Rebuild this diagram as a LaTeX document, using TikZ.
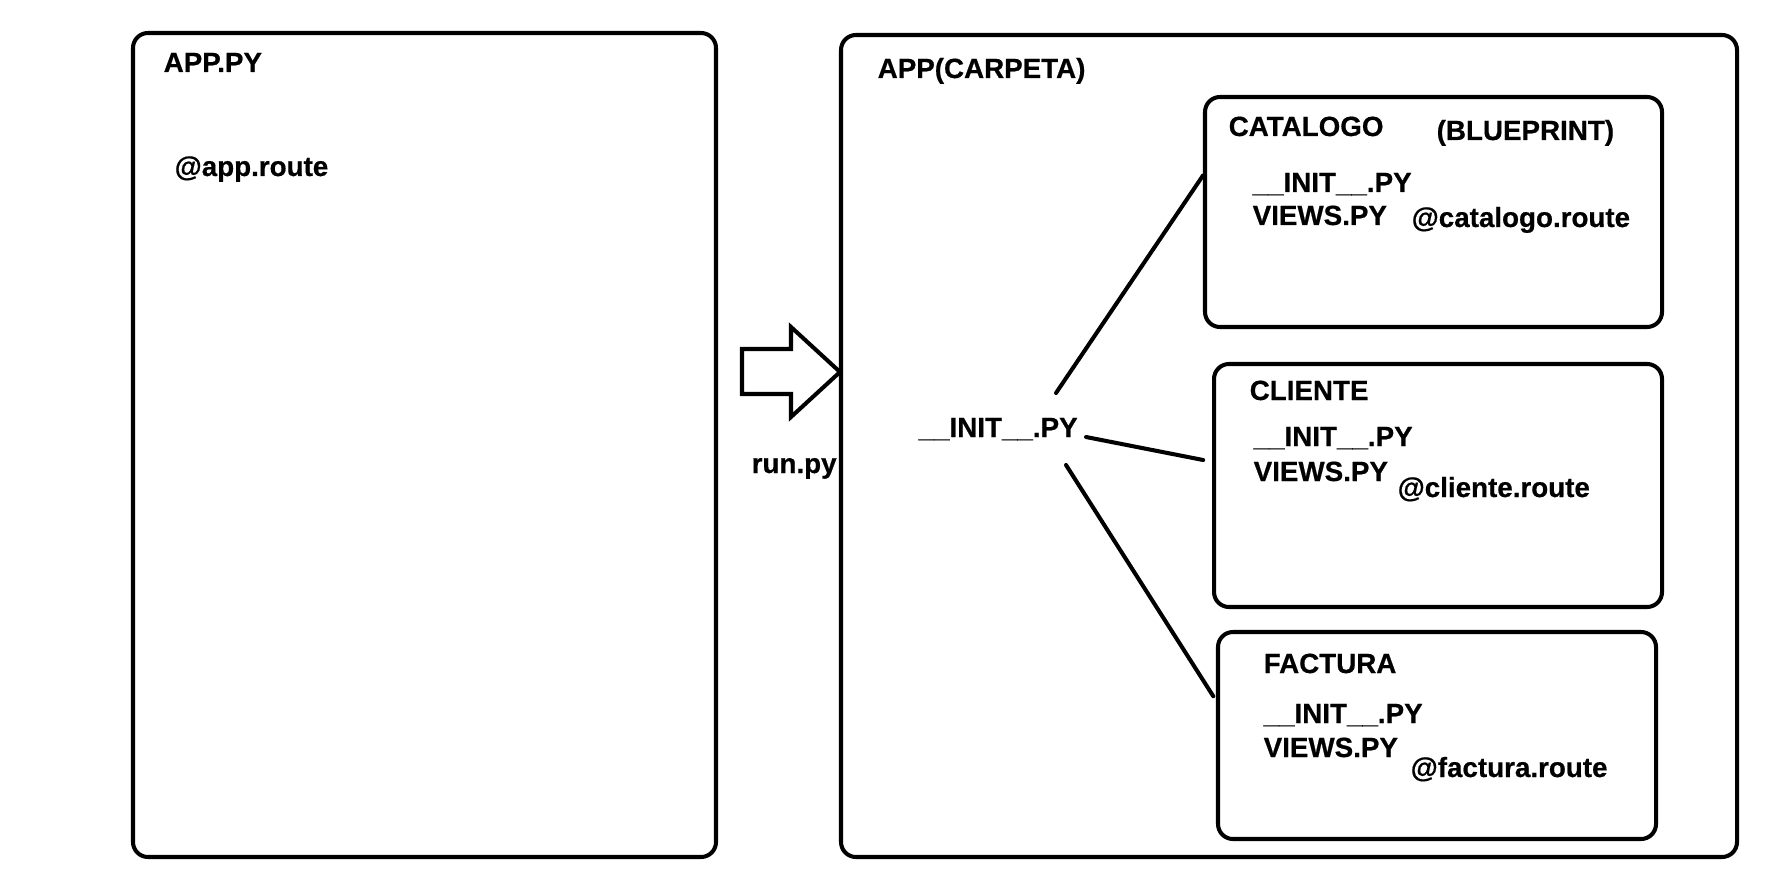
\documentclass[tikz,border=0pt]{standalone}
\usepackage{fontspec}
\setmainfont{Liberation Sans}[BoldFeatures={FakeBold=0.6}]

\begin{document}
\begin{tikzpicture}[
    box/.style = {draw, line width=1.15pt, rounded corners=0.15cm, inner sep=0pt},
    txt/.style = {anchor=base west, inner sep=0pt, font=\bfseries\fontsize{7.9pt}{9.5pt}\selectfont},
    link/.style = {line width=1.15pt, line cap=round}
  ]
      \useasboundingbox (0,0) rectangle (17.70,8.77);

      \node[box, minimum width=5.83cm, minimum height=8.24cm] (apppy) at (4.245,4.32) {};
      \node[box, minimum width=8.96cm, minimum height=8.22cm] (carpeta) at (12.89,4.31) {};
      \node[box, minimum width=4.57cm, minimum height=2.30cm] (catalogo) at (14.335,6.65) {};
      \node[box, minimum width=4.48cm, minimum height=2.43cm] (cliente) at (14.38,3.915) {};
      \node[box, minimum width=4.38cm, minimum height=2.07cm] (factura) at (14.37,1.415) {};

      \node[txt] (apppylabel) at (1.63,8.05) {APP.PY};
      \node[txt] (approute) at (1.74,7.01) {@app.route};

      \node[txt] (carpetalabel) at (8.77,7.99) {APP(CARPETA)};
      \node[txt] (init) at (9.18,4.40) {\_\_INIT\_\_.PY};

      \node[txt] (catalogolabel) at (12.28,7.41) {CATALOGO};
      \node[txt] (blueprint) at (14.36,7.37) {(BLUEPRINT)};
      \node[txt] (catinit) at (12.52,6.85) {\_\_INIT\_\_.PY};
      \node[txt] (catviews) at (12.52,6.52) {VIEWS.PY};
      \node[txt] (catroute) at (14.11,6.50) {@catalogo.route};

      \node[txt] (clientelabel) at (12.49,4.77) {CLIENTE};
      \node[txt] (cliinit) at (12.53,4.31) {\_\_INIT\_\_.PY};
      \node[txt] (cliviews) at (12.53,3.96) {VIEWS.PY};
      \node[txt] (cliroute) at (13.97,3.80) {@cliente.route};

      \node[txt] (facturalabel) at (12.63,2.04) {FACTURA};
      \node[txt] (facinit) at (12.63,1.54) {\_\_INIT\_\_.PY};
      \node[txt] (facviews) at (12.63,1.20) {VIEWS.PY};
      \node[txt] (facroute) at (14.10,1.00) {@factura.route};

      \node[txt] (run) at (7.51,4.04) {run.py};

      \draw[line width=1.15pt] (7.42,5.28) -- (7.91,5.28) -- (7.91,5.50) -- (8.40,5.05)
        -- (7.91,4.60) -- (7.91,4.83) -- (7.42,4.83) -- cycle;

      \coordinate (tocat) at (10.56,4.84);
      \coordinate (tocli) at (10.86,4.40);
      \coordinate (tofac) at (10.66,4.12);

      \draw[link] (tocat) -- (catalogo.171);
      \draw[link, shorten >=0.09cm] (tocli) -- (cliente.174.5);
      \draw[link, shorten >=0.05cm] (tofac) -- (factura.171.3);

    \end{tikzpicture}
\end{document}
